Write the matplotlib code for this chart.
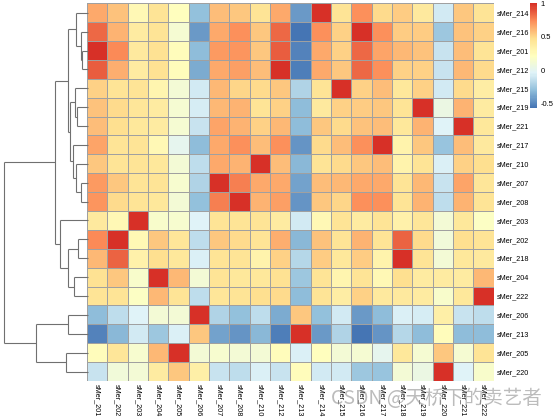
import matplotlib
matplotlib.use("Agg")
import matplotlib.pyplot as plt
import numpy as np
from matplotlib.colors import LinearSegmentedColormap

plt.rcParams['font.family'] = ['Liberation Sans', 'DejaVu Sans']

# variables in original order (columns)
col_names = ['sMer_201', 'sMer_202', 'sMer_203', 'sMer_204', 'sMer_205', 'sMer_206',
             'sMer_207', 'sMer_208', 'sMer_210', 'sMer_212', 'sMer_213', 'sMer_214',
             'sMer_215', 'sMer_216', 'sMer_217', 'sMer_218', 'sMer_219', 'sMer_220',
             'sMer_221', 'sMer_222']

# row order after clustering
row_names = ['sMer_214', 'sMer_216', 'sMer_201', 'sMer_212', 'sMer_215', 'sMer_219',
             'sMer_221', 'sMer_217', 'sMer_210', 'sMer_207', 'sMer_208', 'sMer_203',
             'sMer_202', 'sMer_218', 'sMer_204', 'sMer_222', 'sMer_206', 'sMer_213',
             'sMer_205', 'sMer_220']

# correlation matrix, original order
corr = [
    [1.00, 0.75, 0.40, 0.46, 0.25, -0.30, 0.70, 0.71, 0.56, 0.86, -0.50, 0.65, 0.53, 0.83, 0.66, 0.61, 0.57, -0.11, 0.59, 0.45],
    [0.75, 1.00, 0.28, 0.55, 0.43, -0.15, 0.55, 0.49, 0.45, 0.63, -0.32, 0.57, 0.45, 0.62, 0.44, 0.85, 0.50, 0.11, 0.47, 0.45],
    [0.40, 0.28, 1.00, 0.16, 0.15, -0.04, 0.45, 0.45, 0.45, 0.38, -0.09, 0.28, 0.45, 0.38, 0.45, 0.33, 0.43, 0.12, 0.42, 0.20],
    [0.46, 0.55, 0.16, 1.00, 0.60, 0.12, 0.44, 0.42, 0.42, 0.46, -0.25, 0.45, 0.30, 0.44, 0.27, 0.47, 0.39, 0.38, 0.38, 0.61],
    [0.25, 0.43, 0.15, 0.60, 1.00, 0.12, 0.15, 0.12, 0.12, 0.24, -0.06, 0.23, 0.12, 0.13, 0.01, 0.42, 0.13, 0.55, 0.13, 0.44],
    [-0.30, -0.15, -0.04, 0.12, 0.12, 1.00, -0.19, -0.28, -0.15, -0.36, 0.55, -0.29, -0.08, -0.43, -0.31, -0.05, -0.07, 0.35, -0.11, -0.15],
    [0.70, 0.55, 0.45, 0.44, 0.15, -0.19, 1.00, 0.78, 0.65, 0.65, -0.39, 0.58, 0.60, 0.65, 0.65, 0.45, 0.60, -0.11, 0.66, 0.43],
    [0.71, 0.49, 0.45, 0.42, 0.12, -0.28, 0.78, 1.00, 0.62, 0.68, -0.45, 0.55, 0.51, 0.72, 0.72, 0.45, 0.62, -0.15, 0.62, 0.45],
    [0.56, 0.45, 0.45, 0.42, 0.12, -0.15, 0.65, 0.62, 1.00, 0.59, -0.32, 0.45, 0.50, 0.55, 0.58, 0.32, 0.45, -0.06, 0.52, 0.48],
    [0.86, 0.63, 0.38, 0.46, 0.24, -0.36, 0.65, 0.68, 0.59, 1.00, -0.52, 0.65, 0.55, 0.84, 0.72, 0.52, 0.52, -0.12, 0.60, 0.50],
    [-0.50, -0.32, -0.09, -0.25, -0.06, 0.55, -0.39, -0.45, -0.32, -0.52, 1.00, -0.42, -0.19, -0.56, -0.45, -0.18, -0.30, 0.25, -0.30, -0.31],
    [0.65, 0.57, 0.28, 0.45, 0.23, -0.29, 0.58, 0.55, 0.45, 0.65, -0.42, 1.00, 0.45, 0.72, 0.50, 0.54, 0.40, -0.08, 0.55, 0.44],
    [0.53, 0.45, 0.45, 0.30, 0.12, -0.08, 0.60, 0.51, 0.50, 0.55, -0.19, 0.45, 1.00, 0.52, 0.58, 0.41, 0.52, -0.08, 0.50, 0.37],
    [0.83, 0.62, 0.38, 0.44, 0.13, -0.43, 0.65, 0.72, 0.55, 0.84, -0.56, 0.72, 0.52, 1.00, 0.72, 0.54, 0.54, -0.25, 0.57, 0.52],
    [0.66, 0.44, 0.45, 0.27, 0.01, -0.31, 0.65, 0.72, 0.58, 0.72, -0.45, 0.50, 0.58, 0.72, 1.00, 0.32, 0.55, -0.27, 0.58, 0.40],
    [0.61, 0.85, 0.33, 0.47, 0.42, -0.05, 0.45, 0.45, 0.32, 0.52, -0.18, 0.54, 0.41, 0.54, 0.32, 1.00, 0.45, 0.12, 0.42, 0.40],
    [0.57, 0.50, 0.43, 0.39, 0.13, -0.07, 0.60, 0.62, 0.45, 0.52, -0.30, 0.40, 0.52, 0.54, 0.55, 0.45, 1.00, 0.05, 0.62, 0.38],
    [-0.11, 0.11, 0.12, 0.38, 0.55, 0.35, -0.11, -0.15, -0.06, -0.12, 0.25, -0.08, -0.08, -0.25, -0.27, 0.12, 0.05, 1.00, -0.04, 0.17],
    [0.59, 0.47, 0.42, 0.38, 0.13, -0.11, 0.66, 0.62, 0.52, 0.60, -0.30, 0.55, 0.50, 0.57, 0.58, 0.42, 0.62, -0.04, 1.00, 0.42],
    [0.45, 0.45, 0.20, 0.61, 0.44, -0.15, 0.43, 0.45, 0.48, 0.50, -0.31, 0.44, 0.37, 0.52, 0.40, 0.40, 0.38, 0.17, 0.42, 1.00],
]

# row dendrogram: (merge height, left, right)
row_tree = (4.20,
            (1.65,
             (0.985,
              (0.615, 'sMer_214', (0.35, 'sMer_216', (0.285, 'sMer_201', 'sMer_212'))),
              (0.875,
               (0.665, 'sMer_215', (0.535, 'sMer_219', 'sMer_221')),
               (0.735, 'sMer_217', (0.60, 'sMer_210', (0.365, 'sMer_207', 'sMer_208'))))),
             (1.40, 'sMer_203',
              (1.015, (0.485, 'sMer_202', 'sMer_218'), (0.70, 'sMer_204', 'sMer_222')))),
            (2.615, (0.985, 'sMer_206', 'sMer_213'), (1.115, 'sMer_205', 'sMer_220')))

legend_ticks = [1, 0.5, 0, -0.5]

# pheatmap default palette
cmap = LinearSegmentedColormap.from_list(
    'rdylbu', ['#4575B4', '#91BFDB', '#E0F3F8', '#FFFFBF', '#FEE090', '#FC8D59', '#D73027'], N=100)

mat = np.array(corr)
idx = [col_names.index(r) for r in row_names]
mat = mat[idx, :]
vmin, vmax = mat.min(), mat.max()

W, H = 554, 418
fig = plt.figure(figsize=(W / 100, H / 100), dpi=100)

def box(x0, y0, x1, y1):
    return [x0 / W, 1 - y1 / H, (x1 - x0) / W, (y1 - y0) / H]

# heatmap
ax = fig.add_axes(box(87, 3.3, 493.5, 381))
ax.pcolormesh(mat, cmap=cmap, vmin=vmin, vmax=vmax, edgecolors='#a0a0a0', linewidth=0.6)
ax.set_xlim(0, len(col_names))
ax.set_ylim(len(row_names), 0)
for s in ax.spines.values():
    s.set_visible(False)
ax.set_xticks(np.arange(len(col_names)) + 0.5)
ax.set_xticklabels(col_names, rotation=270, ha='center', va='top', fontsize=5.2)
ax.set_yticks(np.arange(len(row_names)) + 0.5)
ax.set_yticklabels(row_names, fontsize=5.2)
ax.yaxis.tick_right()
ax.tick_params(length=0, pad=2.5)

# dendrogram
dax = fig.add_axes(box(4, 3.3, 88, 381))
leaf_y = {name: i + 0.5 for i, name in enumerate(row_names)}

def draw(node):
    if isinstance(node, str):
        return leaf_y[node], 0.0
    h, left, right = node
    yl, hl = draw(left)
    yr, hr = draw(right)
    kw = dict(color='#707070', lw=0.8, clip_on=False, solid_capstyle='butt')
    dax.plot([hl, h], [yl, yl], **kw)
    dax.plot([hr, h], [yr, yr], **kw)
    dax.plot([h, h], [yl, yr], **kw)
    return (yl + yr) / 2, h

draw(row_tree)
dax.set_xlim(row_tree[0], 0)
dax.set_ylim(len(row_names), 0)
dax.axis('off')

# legend
cax = fig.add_axes(box(530, 3.3, 536.7, 108))
cb = fig.colorbar(plt.cm.ScalarMappable(norm=plt.Normalize(vmin, vmax), cmap=cmap), cax=cax)
cb.outline.set_visible(False)
cb.set_ticks(legend_ticks)
cb.set_ticklabels(['1', '0.5', '0', '-0.5'])
cax.tick_params(length=0, labelsize=5.5, pad=3)

# watermark
fig.text(436 / W, 1 - 399 / H, 'CSDN @天桥下的卖艺者', ha='center', va='center',
         fontsize=14, color='#909090', alpha=0.6,
         family=['Noto Sans CJK SC', 'DejaVu Sans'])

fig.savefig('out.png', dpi=100)
